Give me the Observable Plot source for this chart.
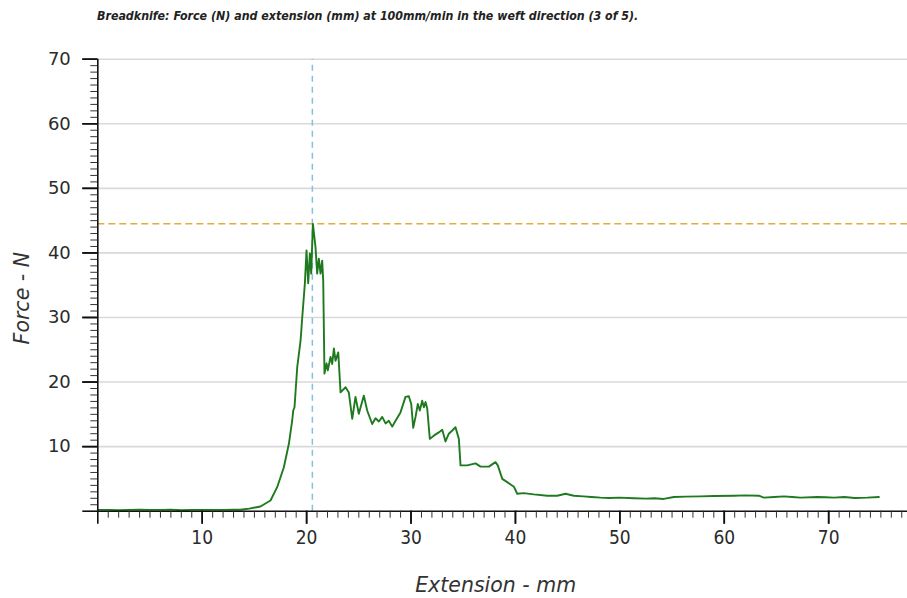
<!DOCTYPE html>
<html>
<head>
<meta charset="utf-8">
<script src="https://cdn.jsdelivr.net/npm/d3@7"></script>
<script src="https://cdn.jsdelivr.net/npm/@observablehq/plot@0.6"></script>
<style>
  html, body { margin: 0; padding: 0; background: #fff; }
  #title {
    height: 30px; line-height: 32px; padding-left: 97px;
    font-family: "Liberation Sans Narrow", "DejaVu Sans Condensed", "Liberation Sans", sans-serif;
    font-weight: bold; font-style: italic; font-size: 12.3px; color: #222;
    white-space: nowrap;
  }
  #chart svg { display: block; }
</style>
</head>
<body>
<div id="title">Breadknife: Force (N) and extension (mm) at 100mm/min in the weft direction (3 of 5).</div>
<div id="chart"></div>
<script>
// ---- data ----
const extension = [0,1,2,3,4,5,6,7,8,9,10,11,12,13,
  13.67,14.5,15.58,16.54,17.18,17.82,18.30,18.62,18.72,18.84,19.10,19.42,19.58,19.83,19.99,20.15,20.31,20.44,20.6,20.85,21.01,21.17,21.33,21.49,21.59,21.71,21.91,22.03,22.29,22.45,22.61,22.77,23.03,23.25,23.73,24.04,24.37,24.68,25.0,25.48,25.80,26.28,26.60,26.92,27.24,27.56,27.87,28.20,28.52,28.99,29.47,29.79,30.02,30.21,30.43,30.65,30.84,31.07,31.23,31.39,31.55,31.80,32.18,32.66,32.99,33.30,33.62,33.95,34.26,34.58,34.74,35.38,36.18,36.66,37.45,38.09,38.31,38.74,39.21,39.85,40.17,40.80,41.76,43.05,44.0,44.80,45.59,46.5,47.3,48.15,49.0,50.0,51.34,52.5,53.3,54.21,55.17,56.3,57.72,59.0,60.92,62.0,63.31,63.79,64.8,65.71,66.5,67.31,68.91,69.7,70.50,71.5,72.5,73.70,74.81];
const force = [0.2,0.2,0.15,0.2,0.25,0.2,0.2,0.25,0.15,0.2,0.2,0.2,0.2,0.25,
  0.22,0.4,0.73,1.66,3.72,6.81,10.44,14.05,15.6,16.1,22.3,26.4,30.0,35.2,40.4,35.3,39.9,36.8,44.5,40.9,36.8,39.1,36.8,38.8,35.7,21.3,22.9,21.8,23.9,22.8,25.2,23.3,24.6,18.4,19.2,18.4,14.3,17.7,15.1,17.9,15.6,13.5,14.4,13.9,14.6,13.6,14.0,13.1,14.0,15.3,17.7,17.8,16.6,12.9,14.6,16.6,15.6,17.1,16.1,16.9,15.9,11.2,11.7,12.2,12.6,10.8,12.0,12.5,13.0,11.2,7.1,7.1,7.4,6.9,6.9,7.6,7.1,5.0,4.5,3.8,2.7,2.8,2.6,2.4,2.4,2.7,2.4,2.3,2.2,2.1,2.05,2.1,2.0,1.95,2.0,1.9,2.2,2.25,2.3,2.35,2.4,2.45,2.4,2.1,2.2,2.3,2.2,2.1,2.2,2.15,2.1,2.2,2.05,2.1,2.2];
const peakExtension = 20.55;   // vertical dashed marker (mm)
const peakForce = 44.5;        // horizontal dashed marker (N)
const xTickLabels = [10, 20, 30, 40, 50, 60, 70];
const yTickLabels = [10, 20, 30, 40, 50, 60, 70];
const xMajorTicks = [0, 10, 20, 30, 40, 50, 60, 70];
const yMajorTicks = [0, 10, 20, 30, 40, 50, 60, 70];
const xMinorTicks = d3.range(0, 78).filter(v => v % 10 !== 0);
const yMinorTicks = d3.range(0, 70).filter(v => v % 10 !== 0);
const xLabel = "Extension - mm";
const yLabel = "Force - N";

const rows = extension.map((e, i) => ({extension: e, force: force[i]}));

const tickFont = {fontFamily: "DejaVu Sans, sans-serif", fontSize: 18, fill: "#2b2b2b"};

const chart = Plot.plot({
  width: 907,
  height: 568,
  marginTop: 28.7,
  marginBottom: 87.3,
  marginLeft: 97.3,
  marginRight: 0,
  style: {background: "#fff", overflow: "visible"},
  x: {domain: [0, 77.55], axis: null},
  y: {domain: [0, 70], axis: null},
  marks: [
    // grid
    Plot.ruleY(yTickLabels, {stroke: "#d9d9d9", strokeWidth: 1.6}),
    // reference dashed lines
    Plot.ruleY([peakForce], {stroke: "#dfae3c", strokeWidth: 1.5, strokeDasharray: "7,4"}),
    Plot.ruleX([peakExtension], {y1: 0, y2: 70, stroke: "#84c0df", strokeWidth: 1.5, strokeDasharray: "6,5"}),
    // data line
    Plot.line(rows, {x: "extension", y: "force", stroke: "#1f7a1f", strokeWidth: 1.9}),
    // axis lines
    Plot.ruleX([0], {y1: 0, y2: 70, stroke: "#111", strokeWidth: 1.6}),
    Plot.ruleY([0], {stroke: "#111", strokeWidth: 1.6}),
    // y axis ticks
    Plot.axisY(yMinorTicks, {anchor: "left", tickSize: 7, text: null, label: null, stroke: "#333", strokeWidth: 1}),
    Plot.axisY(yMajorTicks, {anchor: "left", tickSize: 15, text: null, label: null, stroke: "#111", strokeWidth: 1.6}),
    Plot.axisY(yTickLabels, {anchor: "left", tickSize: 15, tickPadding: 12, label: null, stroke: "#111", strokeWidth: 1.6, ...tickFont}),
    // x axis ticks
    Plot.axisX(xMinorTicks, {anchor: "bottom", tickSize: 7, text: null, label: null, stroke: "#333", strokeWidth: 1}),
    Plot.axisX(xMajorTicks, {anchor: "bottom", tickSize: 13, text: null, label: null, stroke: "#111", strokeWidth: 1.6}),
    Plot.axisX(xTickLabels, {anchor: "bottom", tickSize: 13, tickPadding: 6, label: null, stroke: "#111", strokeWidth: 1.6,
      fontFamily: "Liberation Sans Narrow, DejaVu Sans Condensed, sans-serif", fontSize: 19, fill: "#2b2b2b"}),
    // axis titles
    Plot.text([xLabel], {frameAnchor: "bottom", dx: -7, dy: 74, text: d => d, textAnchor: "middle", lineAnchor: "middle",
      fontFamily: "DejaVu Sans, sans-serif", fontStyle: "italic", fontSize: 20.5, fill: "#333"}),
    Plot.text([yLabel], {frameAnchor: "left", dx: -75, dy: 13, rotate: -90, text: d => d, textAnchor: "middle", lineAnchor: "middle",
      fontFamily: "DejaVu Sans, sans-serif", fontStyle: "italic", fontSize: 20.5, fill: "#333"})
  ]
});
document.getElementById("chart").appendChild(chart);
</script>
</body>
</html>
